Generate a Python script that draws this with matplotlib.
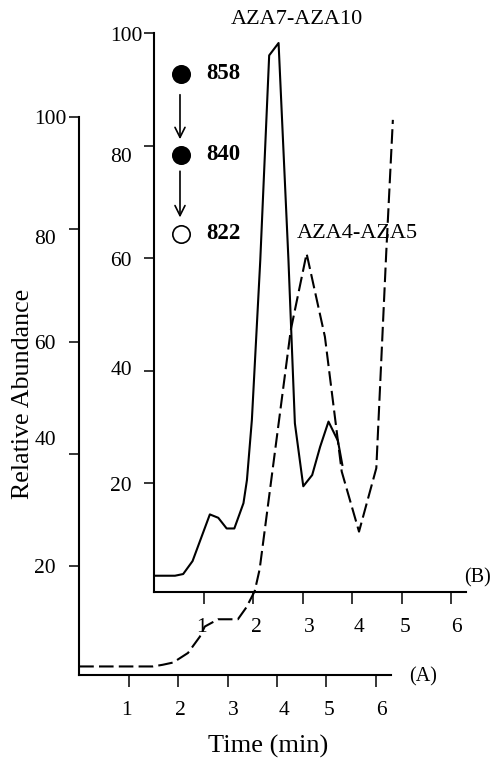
import matplotlib
matplotlib.use("Agg")
import matplotlib.pyplot as plt
from matplotlib.transforms import ScaledTranslation

# --- data ---
# (B) AZA7-AZA10 trace, inner axes
aza7_t = [0, 0.415, 0.58, 0.77, 1.12, 1.29, 1.46, 1.615, 1.80, 1.87, 1.97,
          2.14, 2.32, 2.51, 2.71, 2.84, 3.01, 3.19, 3.35, 3.52, 3.71, 3.80]
aza7_v = [3.6, 3.6, 3.9, 6.2, 14.5, 13.9, 12.0, 12.0, 16.5, 20.6, 31.3,
          59.7, 96.1, 98.3, 59.7, 30.7, 19.5, 21.5, 26.5, 31.0, 27.6, 23.3]

# (A) AZA4-AZA5 trace, outer axes
aza4_t = [0, 1.49, 1.69, 1.9, 2.2, 2.44, 2.54, 2.81, 3.21, 3.38, 3.55, 3.65,
          4.28, 4.6, 4.97, 5.31, 5.66, 6.01, 6.21, 6.345]
aza4_v = [2.2, 2.2, 2.5, 2.9, 4.6, 7.5, 9.3, 10.6, 10.6, 12.7, 15.6, 19.5,
          62.1, 75.7, 60.9, 36.9, 26.2, 37.5, 75.7, 99.5]

x_ticks = [1, 2, 3, 4, 5, 6]
y_ticks = [20, 40, 60, 80, 100]

# fragmentation scheme
ions = ["858", "840", "822"]
ion_y = [92.8, 78.4, 64.4]
ion_filled = [True, True, False]

# hand-placed label nudges in the original (pixels, +x right, +y down)
xlab_shift_A = [-2, 2.5, 5.5, 7.5, 3, 5.5]
xlab_shift_B = [-2.5, 3, 6.5, 7, 3, 5.5]
ylab_shift_A = [0, -16, 0, 7.5, 0]
ylab_shift_B = [1, -3, 1, 9, 1]

plt.rcParams['font.family'] = ['Liberation Serif', 'DejaVu Serif']

fig = plt.figure(figsize=(4.92, 7.6), dpi=100)

def nudge(text, dx, dy):
    text.set_transform(text.get_transform() +
                       ScaledTranslation(dx / 100, -dy / 100, fig.dpi_scale_trans))

def style_axes(ax, ypad, xs, ys):
    for s in ["top", "right"]:
        ax.spines[s].set_visible(False)
    for s in ["left", "bottom"]:
        ax.spines[s].set_linewidth(1.5)
    ax.set_xlim(0, 6.3)
    ax.set_ylim(0.7, 100)
    ax.set_xticks(x_ticks)
    ax.set_yticks(y_ticks)
    ax.tick_params(axis="x", direction="out", length=8.5, width=1.1,
                   pad=10.5, labelsize=15.5)
    ax.tick_params(axis="y", direction="out", length=7.2, width=1.1,
                   pad=ypad, labelsize=15.5)
    for tick, dx in zip(ax.xaxis.get_major_ticks(), xs):
        nudge(tick.label1, dx, 0)
    for tick, dy in zip(ax.yaxis.get_major_ticks(), ys):
        tick.label1.set_horizontalalignment("left")
        nudge(tick.label1, 0, dy)

# --- outer axes (A) ---
axA = fig.add_axes([0.161, 0.112, 0.633, 0.734])
style_axes(axA, 25, xlab_shift_A, ylab_shift_A)
axA.plot(aza4_t, aza4_v, color="black", lw=1.5, linestyle=(0, (7, 2.5)),
         clip_on=False)
axA.text(6.95, 0.4, "(A)", fontsize=14.5, ha="center", va="center")

# --- inner axes (B) ---
axB = fig.add_axes([0.314, 0.221, 0.633, 0.735])
axB.set_facecolor("none")
style_axes(axB, 24.5, xlab_shift_B, ylab_shift_B)
axB.plot(aza7_t, aza7_v, color="black", lw=1.5, clip_on=False)
axB.text(6.53, 3.3, "(B)", fontsize=14.5, ha="center", va="center",
         clip_on=False)

axB.text(2.88, 102.4, "AZA7-AZA10", fontsize=16, ha="center", va="center",
         clip_on=False)
axB.text(4.1, 64.5, "AZA4-AZA5", fontsize=16, ha="center", va="center")

for name, yy, filled in zip(ions, ion_y, ion_filled):
    axB.plot([0.53], [yy], marker="o", markersize=12.5,
             markerfacecolor="black" if filled else "white",
             markeredgecolor="black", markeredgewidth=1.2)
    axB.text(1.05, yy, name, fontsize=16.5, fontweight="bold",
             ha="left", va="center")

for y0, y1 in [(89.6, 80.7), (76.0, 66.8)]:
    axB.annotate("", xy=(0.516, y1), xytext=(0.516, y0),
                 arrowprops=dict(arrowstyle="->", lw=1.2,
                                 mutation_scale=18, color="black"))

fig.text(0.545, 0.018, "Time (min)", fontsize=19, ha="center", va="center")
fig.text(0.047, 0.482, "Relative Abundance", fontsize=18.7, rotation=90,
         ha="center", va="center")

fig.savefig("out.png", dpi=100)
